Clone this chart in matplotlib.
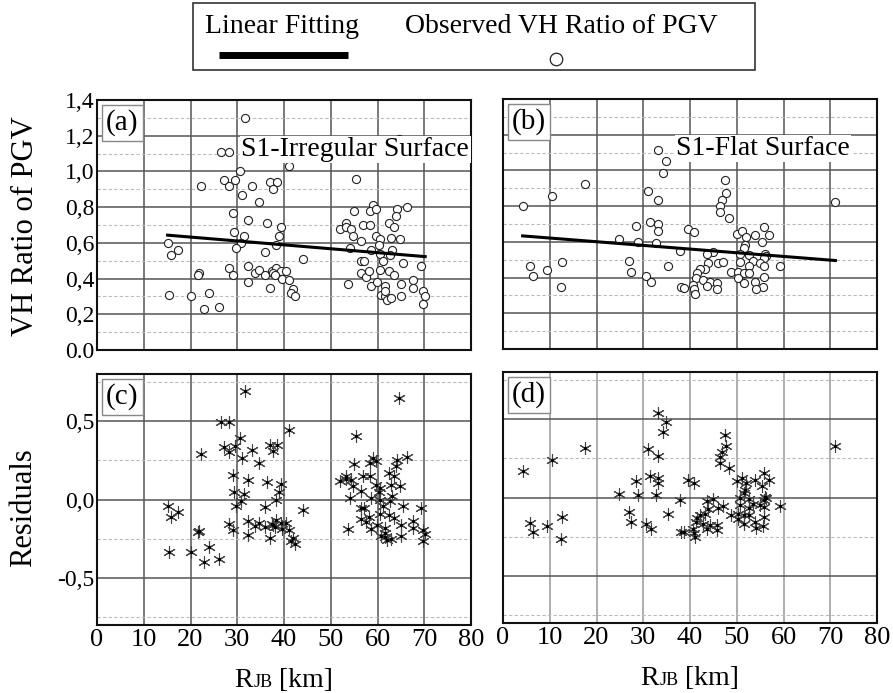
import numpy as np
import matplotlib.pyplot as plt
from matplotlib.patches import Rectangle
from matplotlib.offsetbox import TextArea, HPacker, AnchoredOffsetbox

plt.rcParams['font.family'] = ['Liberation Serif', 'DejaVu Serif']

# S1 irregular surface: R_JB [km] and observed V/H ratio of PGV
irr_rjb = [31.7, 26.6, 28.2, 30.5, 41.1, 55.4, 22.3, 27.2, 28.3, 29.5,
           33.2, 36.9, 38.6, 37.7, 31.0, 34.7, 29.1, 32.3, 36.4, 39.3,
           29.2, 31.4, 38.9, 30.8, 38.3, 29.8, 15.1, 15.8, 17.4, 35.9,
           44.0, 28.2, 29.0, 32.3, 21.8, 21.6, 33.9, 34.7, 35.9, 37.4,
           38.3, 37.7, 39.4, 40.5, 38.1, 39.5, 41.1, 32.3, 36.9, 41.9,
           41.5, 42.4, 15.4, 20.2, 24.0, 22.8, 26.2,
           55.0, 59.0, 58.3, 59.7, 64.2, 66.3, 64.0, 53.3, 51.9, 53.2,
           54.4, 57.0, 58.5, 62.5, 63.6, 54.8, 59.6, 60.5, 62.8, 64.8,
           56.5, 60.4, 54.1, 58.7, 63.2, 60.5, 62.7, 61.1, 56.5, 57.2,
           65.5, 69.3, 60.6, 56.5, 57.5, 58.2, 62.4, 63.5, 53.6, 58.6,
           59.9, 61.6, 65.0, 67.7, 67.5, 69.7, 70.2, 69.7, 60.8, 61.7,
           62.0, 62.9, 65.0, 61.6, 64.5]
irr_ratio = [1.30, 1.11, 1.11, 1.00, 1.03, 0.96, 0.92, 0.95, 0.92, 0.95,
             0.92, 0.94, 0.94, 0.90, 0.87, 0.83, 0.77, 0.73, 0.71, 0.69,
             0.66, 0.64, 0.64, 0.60, 0.59, 0.57, 0.60, 0.53, 0.56, 0.55,
             0.51, 0.46, 0.42, 0.47, 0.43, 0.42, 0.43, 0.45, 0.42, 0.44,
             0.46, 0.43, 0.44, 0.44, 0.42, 0.40, 0.39, 0.38, 0.35, 0.34,
             0.32, 0.30, 0.31, 0.30, 0.32, 0.23, 0.24,
             0.78, 0.81, 0.78, 0.79, 0.79, 0.80, 0.75, 0.71, 0.68, 0.69,
             0.68, 0.70, 0.70, 0.71, 0.69, 0.64, 0.64, 0.62, 0.63, 0.62,
             0.61, 0.59, 0.57, 0.56, 0.56, 0.54, 0.53, 0.50, 0.50, 0.50,
             0.49, 0.47, 0.45, 0.43, 0.41, 0.44, 0.44, 0.42, 0.37, 0.36,
             0.38, 0.36, 0.37, 0.39, 0.35, 0.33, 0.30, 0.26, 0.31, 0.30,
             0.28, 0.29, 0.30, 0.33, 1.18]

# S1 flat surface
flat_rjb = [33.2, 34.9, 34.3, 17.6, 10.4, 4.2, 31.0, 33.1, 47.4, 47.7,
            46.8, 46.4, 46.4, 48.4, 71.1, 28.4, 31.5, 33.1, 33.2, 39.5,
            40.8, 24.8, 28.8, 32.8, 37.8, 50.0, 51.2, 52.0, 53.9, 55.9,
            57.0, 55.5, 51.8, 51.6, 44.9, 43.6, 50.7, 52.6, 56.0, 56.3,
            50.7, 53.5, 55.8, 59.2, 55.0, 46.0, 47.1, 43.9, 52.6, 55.8,
            43.2, 42.1, 48.7, 50.3, 51.6, 52.6, 41.6, 41.3, 42.7, 44.3,
            45.7, 50.2, 51.6, 53.8, 55.8, 55.6, 54.1, 43.6, 45.8, 40.6,
            40.9, 41.1, 38.0, 38.8, 35.2, 30.6, 31.7, 27.0, 27.3, 5.7,
            6.4, 9.4, 12.6, 12.3]
flat_ratio = [1.114, 1.051, 0.986, 0.922, 0.857, 0.803, 0.887, 0.836, 0.945, 0.874,
              0.834, 0.803, 0.769, 0.732, 0.825, 0.689, 0.713, 0.698, 0.663, 0.670,
              0.653, 0.616, 0.601, 0.592, 0.551, 0.644, 0.659, 0.629, 0.640, 0.685,
              0.637, 0.601, 0.581, 0.564, 0.541, 0.530, 0.532, 0.526, 0.530, 0.521,
              0.489, 0.493, 0.508, 0.467, 0.480, 0.483, 0.489, 0.480, 0.467, 0.465,
              0.448, 0.446, 0.431, 0.433, 0.427, 0.424, 0.424, 0.399, 0.386, 0.377,
              0.371, 0.399, 0.368, 0.377, 0.401, 0.345, 0.336, 0.351, 0.338, 0.360,
              0.334, 0.306, 0.345, 0.340, 0.465, 0.409, 0.373, 0.495, 0.431, 0.465,
              0.409, 0.442, 0.489, 0.349]

# linear fits (intercept, slope)
irr_fit = (0.676, -0.00218)
flat_fit = (0.642, -0.00206)

rjb_ticks = [0, 10, 20, 30, 40, 50, 60, 70, 80]
ratio_ticks = [0.0, 0.2, 0.4, 0.6, 0.8, 1.0, 1.2, 1.4]
ratio_minor = [0.1, 0.3, 0.5, 0.7, 0.9, 1.1, 1.3]
ratio_labels = ['0.0', '0,2', '0,4', '0,6', '0,8', '1,0', '1,2', '1,4']
resid_ticks = [-0.5, 0.0, 0.5]
resid_minor = [-0.75, -0.25, 0.25, 0.75]
resid_labels = ['-0,5', '0,0', '0,5']

W, H = 893, 693
fig = plt.figure(figsize=(W / 100, H / 100), dpi=100)


def px_axes(left, top, right, bottom):
    return fig.add_axes([left / W, 1 - bottom / H, (right - left) / W, (bottom - top) / H])


ax_a = px_axes(97, 100, 471, 350)
ax_b = px_axes(503, 99, 877, 349)
ax_c = px_axes(97, 374, 471, 625)
ax_d = px_axes(503, 372, 877, 623)


def style(ax, ylim, major, minor, vcolor='#555555'):
    ax.set_xlim(0, 80)
    ax.set_ylim(*ylim)
    ax.set_xticks(rjb_ticks)
    ax.set_yticks(major)
    ax.set_yticks(minor, minor=True)
    ax.set_axisbelow(True)
    ax.yaxis.grid(True, which='major', color='#555555', lw=1.1)
    ax.yaxis.grid(True, which='minor', color='#bbbbbb', lw=0.8, ls=(0, (3, 2)))
    ax.xaxis.grid(True, which='major', color=vcolor, lw=1.1)
    ax.tick_params(which='both', length=0, pad=2)
    ax.tick_params(axis='x', labelsize=19, pad=3)
    ax.tick_params(axis='y', labelsize=17)
    for s in ax.spines.values():
        s.set_linewidth(1.5)
        s.set_color('#111111')
    ax.set_xticklabels([])
    ax.set_yticklabels([])


def panel_tag(ax, tag):
    ax.text(0.024, 0.962, tag, transform=ax.transAxes, ha='left', va='top', fontsize=21,
            zorder=6, bbox=dict(boxstyle='square,pad=0.15', fc='white', ec='#888888', lw=1))


def rjb_label(ax):
    parts = [TextArea('R', textprops=dict(fontsize=20)),
             TextArea('JB', textprops=dict(fontsize=13)),
             TextArea(' [km]', textprops=dict(fontsize=20))]
    box = HPacker(children=parts, align='baseline', pad=0, sep=0)
    ab = AnchoredOffsetbox(loc='upper center', child=box, pad=0, borderpad=0, frameon=False,
                           bbox_to_anchor=(0.5, -0.17), bbox_transform=ax.transAxes)
    ax.add_artist(ab)


style(ax_a, (0, 1.4), ratio_ticks, ratio_minor)
style(ax_b, (0, 1.4), ratio_ticks, ratio_minor)
style(ax_c, (-0.8, 0.8), resid_ticks, resid_minor)
style(ax_d, (-0.8, 0.8), resid_ticks, resid_minor, vcolor='#999999')

ax_a.set_yticklabels(ratio_labels)
ax_c.set_yticklabels(resid_labels)
ax_c.set_xticklabels([str(t) for t in rjb_ticks])
ax_d.set_xticklabels([str(t) for t in rjb_ticks])

panels = [(ax_a, ax_c, irr_rjb, irr_ratio, irr_fit, 'S1-Irregular Surface', 0.995),
          (ax_b, ax_d, flat_rjb, flat_ratio, flat_fit, 'S1-Flat Surface', 0.928)]

for top, bot, rjb, ratio, fit, title, tx in panels:
    x = np.array(rjb)
    y = np.array(ratio)
    b0, b1 = fit
    xl = np.array([x.min(), x.max()])
    top.scatter(x, y, s=34, facecolors='white', edgecolors='#222222', linewidths=0.8, zorder=3)
    top.plot(xl, b0 + b1 * xl, color='black', lw=2.2, zorder=4)
    top.text(tx, 0.776, title, transform=top.transAxes, ha='right', va='baseline', fontsize=20,
             zorder=5, bbox=dict(boxstyle='square,pad=0.05', fc='white', ec='none'))

    # residuals of the linear fit
    resid = y - (b0 + b1 * x)
    bot.plot(x, resid, ls='none', marker=(6, 2, 0), ms=9, mew=0.8, mec='#444444', zorder=3)
    bot.plot(x, resid, ls='none', marker='.', ms=3, color='black', zorder=4)
    rjb_label(bot)

panel_tag(ax_a, '(a)')
panel_tag(ax_b, '(b)')
panel_tag(ax_c, '(c)')
panel_tag(ax_d, '(d)')

fig.text(26 / W, 1 - 226 / H, 'VH Ratio of PGV', rotation=90, ha='center', va='center', fontsize=22)
fig.text(24 / W, 1 - 508 / H, 'Residuals', rotation=90, ha='center', va='center', fontsize=22)

# legend box drawn by hand: labels above their symbols
lax = fig.add_axes([193 / W, 1 - 70 / H, 562 / W, 67 / H])
lax.set_xlim(0, 1)
lax.set_ylim(0, 1)
lax.axis('off')
lax.add_patch(Rectangle((0, 0), 1, 1, fill=False, ec='#333333', lw=1.2, clip_on=False))
lax.text(0.021, 0.55, 'Linear Fitting', ha='left', va='baseline', fontsize=20)
lax.plot([0.046, 0.276], [0.224, 0.224], color='black', lw=5, solid_capstyle='butt')
lax.text(0.377, 0.55, 'Observed VH Ratio of PGV', ha='left', va='baseline', fontsize=20)
lax.plot([0.646], [0.164], ls='none', marker='o', ms=9, mfc='white', mec='#222222', mew=0.9)

fig.savefig('out.png', dpi=100)
